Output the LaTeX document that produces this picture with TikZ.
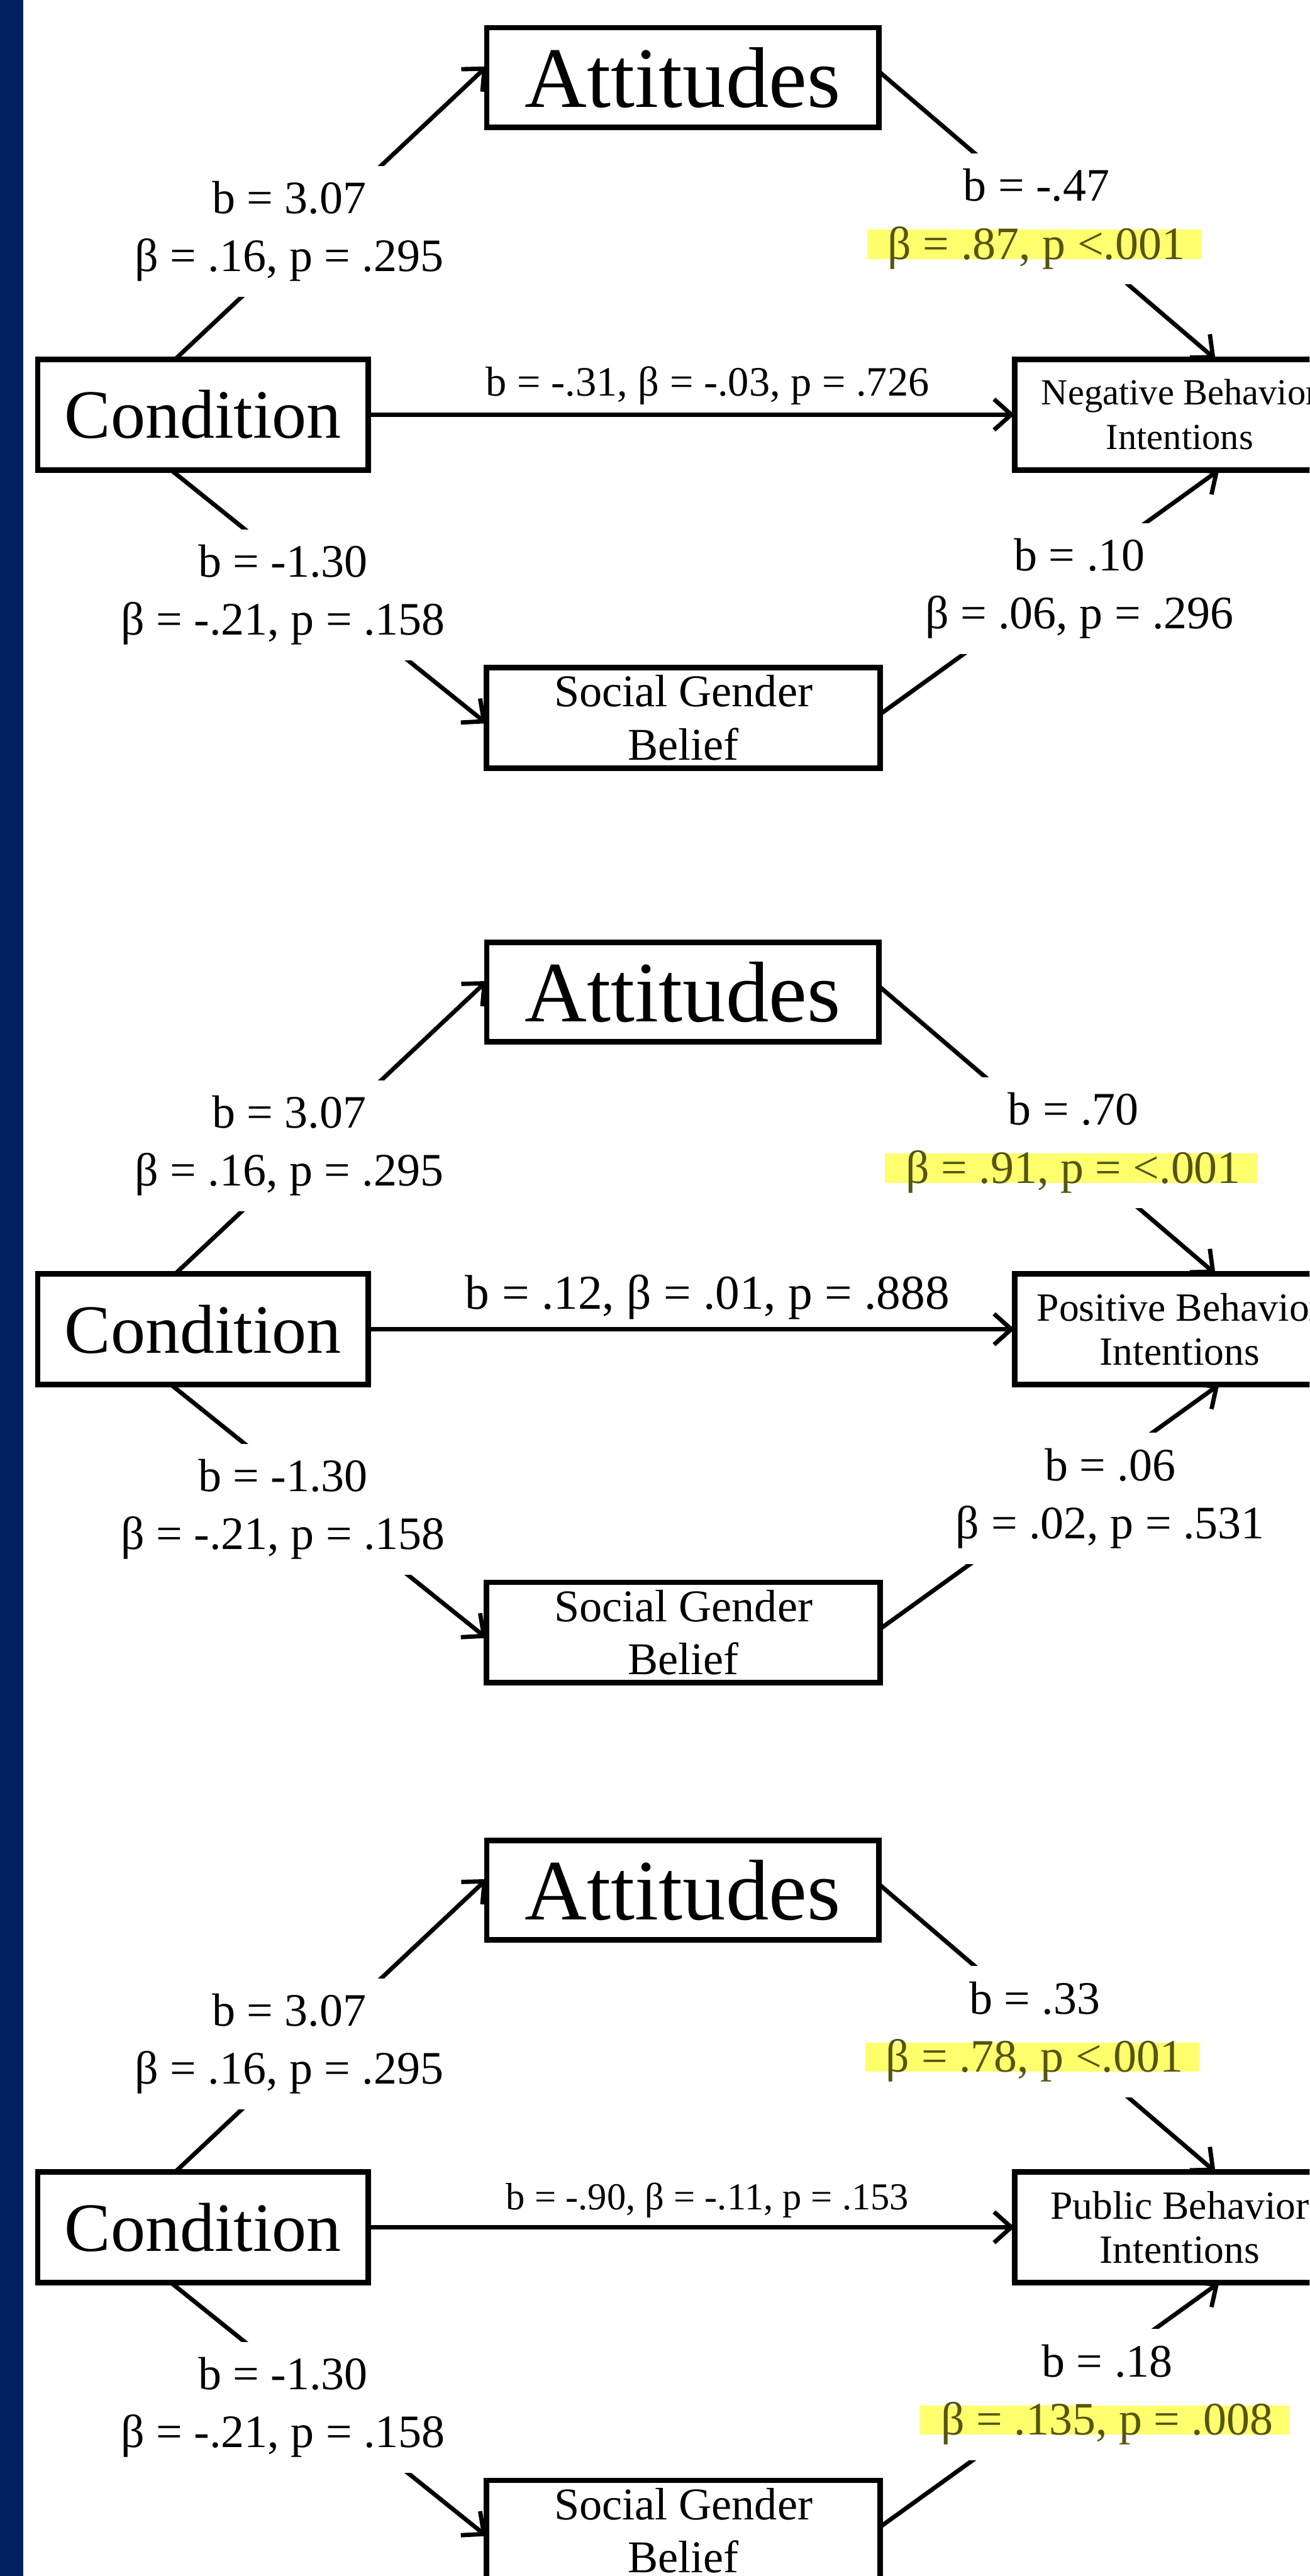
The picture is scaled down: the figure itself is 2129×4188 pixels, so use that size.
\documentclass[tikz,border=0pt]{standalone}
\usepackage{fontspec}
\setmainfont{Liberation Serif}
\usepackage{tikz}
\usepackage{xcolor}
\usetikzlibrary{arrows.meta,calc}
\definecolor{navy}{HTML}{002060}
\definecolor{marker}{HTML}{FFFF6E}
\definecolor{markink}{HTML}{55550F}
% yellow marker pen behind one line of a label
\newcommand{\marked}[1]{\setbox0=\hbox{#1}\rlap{\kern-0.45em\textcolor{marker}{\rule{\dimexpr\wd0+0.8em\relax}{0.63em}}}\textcolor{markink}{\box0}}

\begin{document}
\begin{tikzpicture}[x=0.01cm,y=-0.01cm,
  box/.style={draw,line width=0.09cm,inner sep=0pt,outer sep=0pt,align=center},
  att/.style={box,minimum width=6.37cm,minimum height=1.62cm,font=\fontsize{39.8}{48}\selectfont},
  cond/.style={box,minimum width=5.37cm,minimum height=1.80cm,font=\fontsize{32}{38}\selectfont},
  outc/.style={box,minimum width=5.37cm,minimum height=1.80cm},
  sgb/.style={box,minimum width=6.40cm,minimum height=1.63cm,font=\fontsize{21}{24.5}\selectfont},
  arr/.style={line width=0.07cm,-{Straight Barb[length=0.28cm,width=0.5cm]}},
  lbl/.style={fill=white,inner sep=0.25cm,align=center,font=\fontsize{21.5}{26.8}\selectfont},
  midlbl/.style={above=0.12cm,inner sep=0pt,pos=0.525}]
  \useasboundingbox (0,0) rectangle (2129,4188);
  \clip (0,0) rectangle (2129,4188);
  \fill[navy] (0,0) rectangle (38,4188);

  \foreach \k/\dy/\outtxt/\outfs in {1/0/Negative Behavior/17,2/1487/Positive Behavior/18.5,
                                     3/2947/Public Behavior/18.5}{
    \node[att] (att\k) at (1110,126+\dy) {Attitudes};
    \node[cond] (cond\k) at (330,674+\dy) {Condition};
    \node[outc,font=\fontsize{\outfs}{20.5}\selectfont] (out\k) at (1918,674+\dy) {\outtxt\\Intentions};
    \node[sgb] (sgb\k) at (1111,1167+\dy) {Social Gender\\Belief};
    \draw[arr] ($(cond\k.north)+(-45,0)$) -- ($(att\k.west)+(0,-18)$);
    \draw[arr] ($(att\k.east)+(0,-10)$) -- ($(out\k.north)+(58,0)$);
    \draw[arr] ($(cond\k.south)+(-52,0)$) -- ($(sgb\k.west)+(0,9)$);
    \draw[arr] ($(sgb\k.east)+(0,-6)$) -- ($(out\k.south)+(64,0)$);
    \node[lbl] (ca\k) at (470,376+\dy) {b = 3.07\\β = .16, p = .295};
    \node[lbl] (cs\k) at (460,967+\dy) {b = -1.30\\β = -.21, p = .158};
  }

  \draw[arr] (cond1.east) -- node[midlbl,font=\fontsize{19.3}{23}\selectfont] (d1)
    {b = -.31, β = -.03, p = .726} (out1.west);
  \draw[arr] (cond2.east) -- node[midlbl,font=\fontsize{22.5}{27}\selectfont] (d2)
    {b = .12, β = .01, p = .888} (out2.west);
  \draw[arr] (cond3.east) -- node[midlbl,font=\fontsize{17.6}{21}\selectfont] (d3)
    {b = -.90, β = -.11, p = .153} (out3.west);

  \node[lbl] (ao1) at (1685,356) {b = -.47\\\marked{β = .87, p <.001}};
  \node[lbl] (so1) at (1755,957) {b = .10\\β = .06, p = .296};
  \node[lbl] (ao2) at (1745,1858) {b = .70\\\marked{β = .91, p = <.001}};
  \node[lbl] (so2) at (1805,2436) {b = .06\\β = .02, p = .531};
  \node[lbl] (ao3) at (1682,3303) {b = .33\\\marked{β = .78, p <.001}};
  \node[lbl] (so3) at (1800,3893) {b = .18\\\marked{β = .135, p = .008}};
\end{tikzpicture}
\end{document}
